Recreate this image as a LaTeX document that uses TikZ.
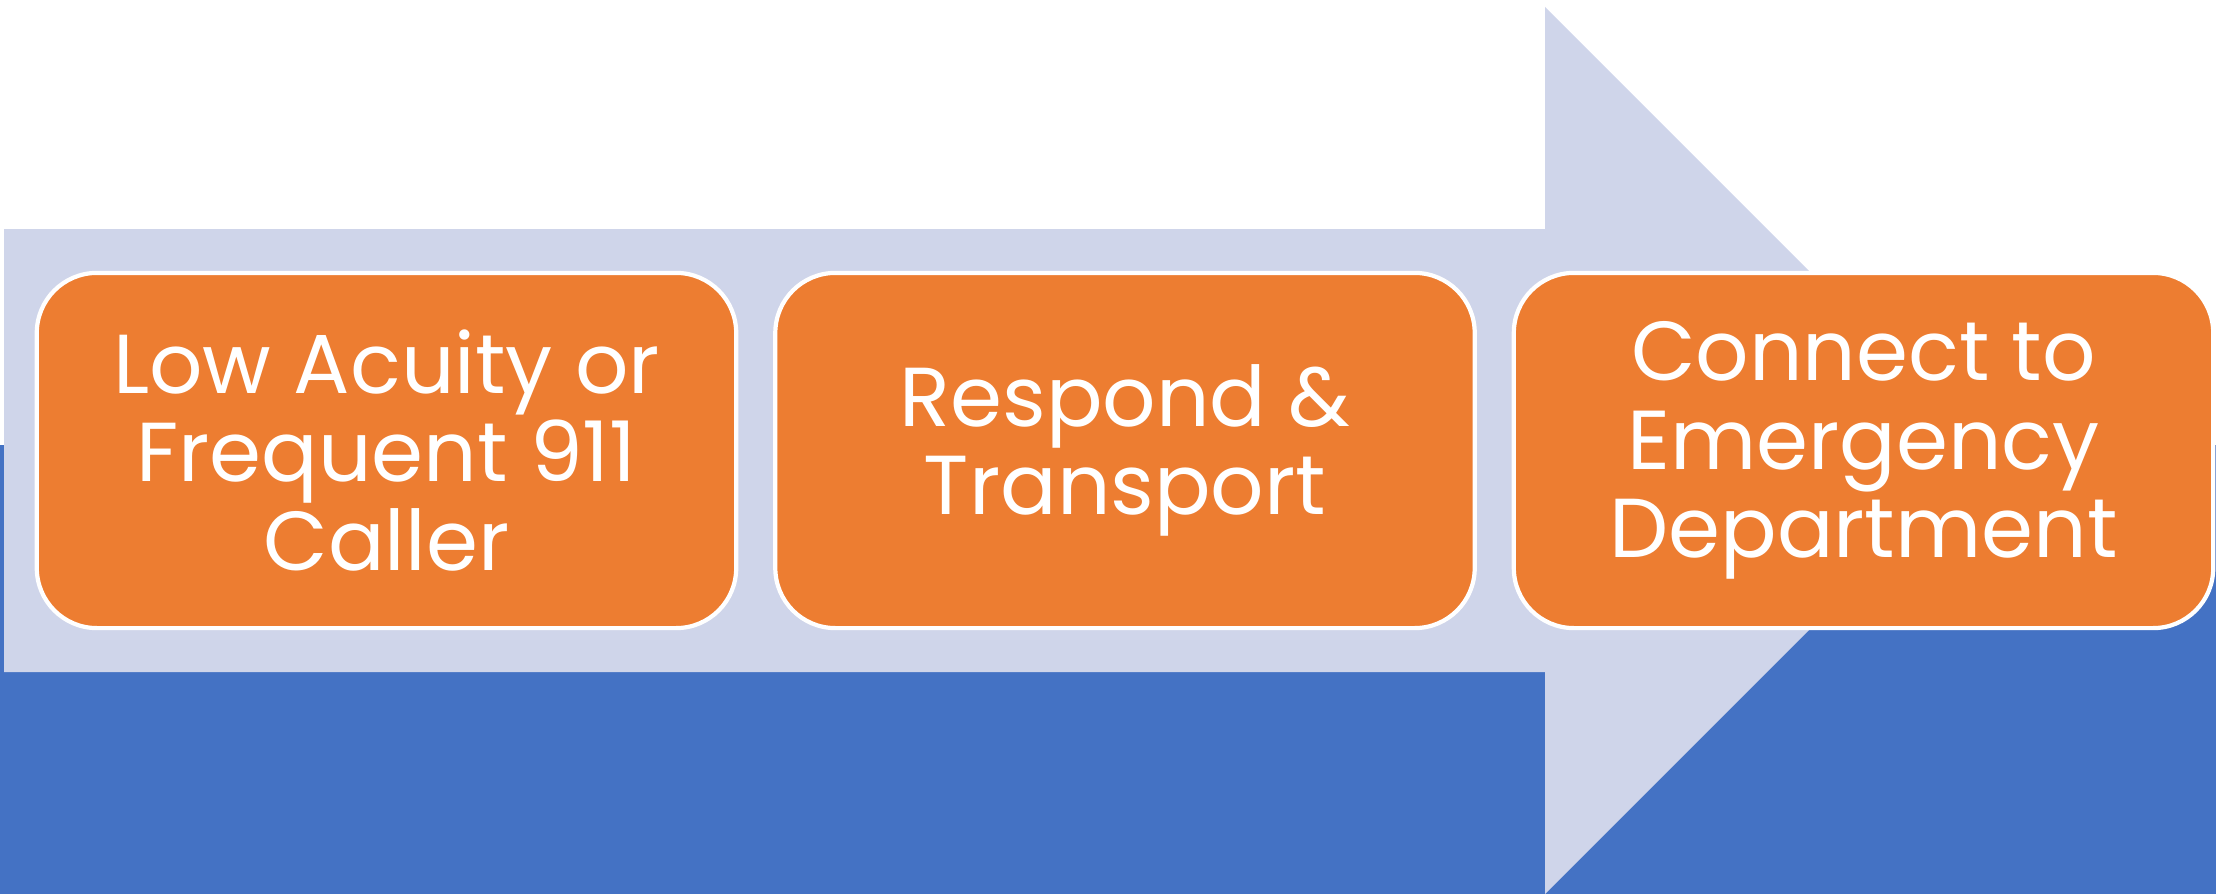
\documentclass[tikz,border=0pt]{standalone}
\usepackage{fontspec}
\setmainfont{Poppins}
\definecolor{band}{HTML}{4472C4}
\definecolor{shaft}{HTML}{CFD5EA}
\definecolor{stage}{HTML}{ED7D31}

\begin{document}
\begin{tikzpicture}[x=0.01cm, y=-0.01cm,
    stage/.style={rectangle, rounded corners=0.6cm, fill=stage, draw=white,
      line width=1.2pt, minimum width=6.99cm, minimum height=3.55cm,
      text=white, align=center, font=\fontsize{23.8}{25.2}\selectfont}]
  \useasboundingbox (0,0) rectangle (2216,894);
  % lower band and the big arrow
  \fill[band] (0,445) rectangle (2216,894);
  \fill[shaft] (4,229) -- (1545,229) -- (1545,7) -- (1988.5,450.5)
    -- (1545,894) -- (1545,672) -- (4,672) -- cycle;
  % the three stages
  \node[stage] (caller)  at ( 386.5,450.5) {Low Acuity or\\Frequent 911\\Caller};
  \node[stage] (respond) at (1125.0,450.5) {Respond \&\\Transport};
  \node[stage] (connect) at (1863.5,450.5) {Connect to\\Emergency\\Department};
\end{tikzpicture}
\end{document}
